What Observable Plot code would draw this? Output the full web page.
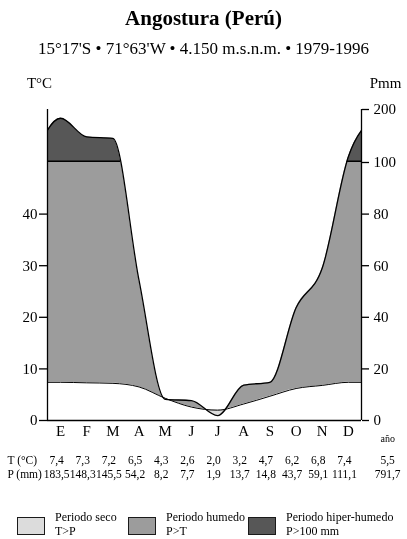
<!DOCTYPE html>
<html><head><meta charset="utf-8">
<script src="https://cdn.jsdelivr.net/npm/d3@7"></script>
<script src="https://cdn.jsdelivr.net/npm/@observablehq/plot@0.6"></script>
<style>
body{margin:0;background:#fff;font-family:"Liberation Serif","Times New Roman",serif;color:#000;}
#wrap{position:relative;width:407px;height:539px;overflow:hidden;background:#fff;}
#title{position:absolute;left:0;top:0;width:407px;text-align:center;font-weight:bold;font-size:21px;line-height:36px;}
#subtitle{position:absolute;left:0;top:36px;width:407px;text-align:center;font-size:17px;line-height:26px;}
#chart{position:absolute;left:0;top:62px;width:407px;height:438px;}
#chart svg{position:absolute;left:0;top:0;}
.lbox{position:absolute;width:26px;height:16px;border:1.5px solid #1a1a1a;}
.ltxt{position:absolute;font-size:12px;line-height:14px;white-space:nowrap;}
</style></head>
<body>
<div id="wrap">
  <div id="title">Angostura (Perú)</div>
  <div id="subtitle">15°17'S • 71°63'W • 4.150 m.s.n.m. • 1979-1996</div>
  <div id="chart"></div>
  <div id="legend"></div>
</div>
<script>
// ---- data ----
const months = ["E","F","M","A","M","J","J","A","S","O","N","D"];
const tempC = [7.4, 7.3, 7.2, 6.5, 4.3, 2.6, 2.0, 3.2, 4.7, 6.2, 6.8, 7.4];
const precipMm = [183.5, 148.3, 145.5, 54.2, 8.2, 7.7, 1.9, 13.7, 14.8, 43.7, 59.1, 111.1];
const annualT = 5.5;
const annualP = 791.7;
const tempTicks = [0, 10, 20, 30, 40];
const precipTicks = [0, 20, 40, 60, 80, 100, 200];
const rowLabels = ["T (°C)", "P (mm)"];
const legendNames = ["Periodo seco", "Periodo humedo", "Periodo hiper-humedo"];
const legendConds = ["T>P", "P>T", "P>100 mm"];

// ---- styling ----
const FONT = '"Liberation Serif","Times New Roman",serif';
const HUMID = "#9c9c9c", DRY = "#dcdcdc", HYPER = "#575757";
const legendColors = [DRY, HUMID, HYPER];
const legendLeft = [17, 128, 248];
const CURVE = "monotone-x";
const W = 407, H = 438;
// Walter-Lieth convention: 1 °C = 2 mm; precipitation above 100 mm drawn on a compressed scale
const K = 53 / 258;
const disp = p => p <= 100 ? p : 100 + (p - 100) * K;
const undisp = d => d <= 100 ? d : 100 + (d - 100) / K;
const yOpts = {domain: [0, disp(200)], range: [358, 47]};
const fmt = v => v.toFixed(1).replace(".", ",");

// cyclic rows (previous December and next January let the curves reach the frame edges; clipped to frame)
const rows = d3.range(-1, 13).map(i => {
  const m = (i + 12) % 12;
  return {x: i + 0.5, t2: tempC[m] * 2, p: disp(precipMm[m])};
});
const monthIdx = months.map((d, i) => i);

const lower = Plot.plot({
  width: W, height: H,
  marginLeft: 47, marginRight: 46, marginTop: 100, marginBottom: 80,
  x: {domain: [0, 12], axis: null},
  y: {...yOpts, axis: null},
  style: {fontFamily: FONT, fontSize: "15px", background: "white", overflow: "visible"},
  marks: [
    Plot.areaY(rows, {x: "x", y1: "t2", y2: "p", fill: HUMID, curve: CURVE, clip: true}),
    // dry period: light fill lightened over white below both curves, so only P<T keeps it
    Plot.areaY(rows, {x: "x", y1: 0, y2: "t2", fill: DRY, mixBlendMode: "lighten", curve: CURVE}),
    Plot.line(rows, {x: "x", y: "t2", stroke: "black", strokeWidth: 1, curve: CURVE, clip: true}),
    Plot.line(rows, {x: "x", y: "p", stroke: "black", strokeWidth: 1.3, curve: CURVE, clip: true}),
    Plot.text(monthIdx, {x: i => i + 0.5, text: i => months[i], frameAnchor: "bottom", dy: 15, fontSize: 15}),
    Plot.text(["año"], {x: 13, text: d => d, frameAnchor: "bottom", dy: 21, fontSize: 10}),
    Plot.text([rowLabels[0]], {text: d => d, frameAnchor: "bottom-left", dx: -40, dy: 43, textAnchor: "start", fontSize: 11.5}),
    Plot.text([rowLabels[1]], {text: d => d, frameAnchor: "bottom-left", dx: -40, dy: 57, textAnchor: "start", fontSize: 11.5}),
    Plot.text(monthIdx, {x: i => i + 0.5, text: i => fmt(tempC[i]), frameAnchor: "bottom", dx: -4, dy: 43, fontSize: 11.5}),
    Plot.text(monthIdx, {x: i => i + 0.5, text: i => fmt(precipMm[i]), frameAnchor: "bottom", dx: -4, dy: 57, fontSize: 11.5}),
    Plot.text([annualT], {x: 13, text: d => fmt(d), frameAnchor: "bottom", dy: 43, fontSize: 11.5}),
    Plot.text([annualP], {x: 13, text: d => fmt(d), frameAnchor: "bottom", dy: 57, fontSize: 11.5})
  ]
});

const upper = Plot.plot({
  width: W, height: H,
  marginLeft: 47, marginRight: 46, marginTop: 47, marginBottom: H - 100,
  x: {domain: [0, 12], axis: null},
  y: {...yOpts},
  style: {fontFamily: FONT, fontSize: "15px", background: "transparent", overflow: "visible"},
  marks: [
    Plot.areaY(rows, {x: "x", y1: 100, y2: "p", fill: "black", curve: CURVE, clip: true}),
    Plot.areaY(rows, {x: "x", y1: 100, y2: "p", fill: HYPER, curve: CURVE, clip: true, dy: -1.6}),
    Plot.areaY(rows, {x: "x", y1: "p", y2: disp(200), fill: "white", curve: CURVE, clip: true}),
    Plot.line(rows, {x: "x", y: "p", stroke: "black", strokeWidth: 1.3, curve: CURVE, clip: true}),
    Plot.ruleX([0, 12], {y1: 0, y2: disp(200), stroke: "black", strokeWidth: 1.3}),
    Plot.ruleY([0], {x1: 0, x2: 12, stroke: "black", strokeWidth: 1.3}),
    Plot.axisY({anchor: "left", ticks: tempTicks.map(t => t * 2), tickFormat: d => d / 2, tickSize: 8, tickPadding: 2,
      fontSize: 15, stroke: "black", strokeWidth: 1.3, label: null}),
    Plot.axisY({anchor: "right", ticks: precipTicks.map(disp), tickFormat: d => Math.round(undisp(d)), tickSize: 7, tickPadding: 5,
      fontSize: 15, stroke: "black", strokeWidth: 1.3, label: null}),
    Plot.text(["T°C"], {text: d => d, frameAnchor: "top-left", textAnchor: "middle", dx: -8, dy: -32, fontSize: 15}),
    Plot.text(["Pmm"], {text: d => d, frameAnchor: "top-right", textAnchor: "middle", dx: 24, dy: -32, fontSize: 15})
  ]
});

const chart = document.getElementById("chart");
chart.appendChild(lower);
chart.appendChild(upper);

// legend
const legend = document.getElementById("legend");
legendNames.forEach((name, i) => {
  const box = document.createElement("div");
  box.className = "lbox";
  box.style.left = legendLeft[i] + "px";
  box.style.top = "517px";
  box.style.background = legendColors[i];
  legend.appendChild(box);
  const txt = document.createElement("div");
  txt.className = "ltxt";
  txt.style.left = (legendLeft[i] + 38) + "px";
  txt.style.top = "510px";
  txt.innerHTML = name + "<br>" + legendConds[i].replace(">", "&gt;");
  legend.appendChild(txt);
});
</script>
</body></html>
